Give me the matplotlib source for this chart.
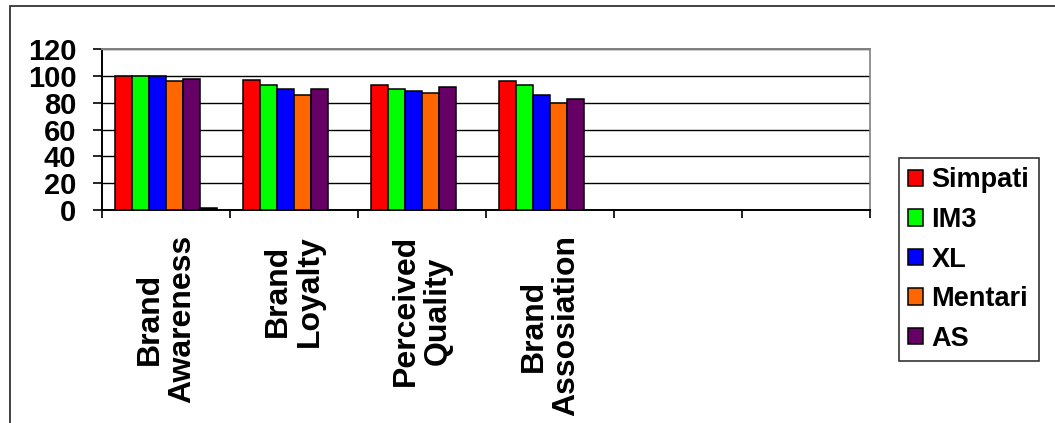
import matplotlib.pyplot as plt
import matplotlib.patches as mpatches
import numpy as np

# brand equity scores per operator
categories = ['Brand\nAwareness', 'Brand\nLoyalty', 'Perceived\nQuality', 'Brand\nAssosiation', '', '']
series = ['Simpati', 'IM3', 'XL', 'Mentari', 'AS']
simpati = [100, 97, 93, 96, np.nan, np.nan]
im3     = [100, 93, 90, 93, np.nan, np.nan]
xl      = [100, 90, 89, 86, np.nan, np.nan]
mentari = [96, 86, 87, 80, np.nan, np.nan]
as_     = [98, 90, 92, 83, np.nan, np.nan]
extra   = [1.3, np.nan, np.nan, np.nan, np.nan, np.nan]   # unnamed 6th series
yticks = [0, 20, 40, 60, 80, 100, 120]

colors = ['#FF0000', '#00FF00', '#0000FF', '#FF6600', '#660066', '#000000']

plt.rcParams['font.family'] = 'Liberation Sans'
plt.rcParams['font.weight'] = 'bold'

fig = plt.figure(figsize=(10.55, 4.23), dpi=100)
ax = fig.add_axes([102/1055, 1-210/423, (870-102)/1055, (210-49)/423])

# outer chart frame (runs off the right and bottom edge)
fig.patches.append(mpatches.Rectangle((10/1055, -0.2), 1.2, 1.2 - 6/423,
                                      transform=fig.transFigure, fill=False,
                                      edgecolor='#222222', linewidth=1.2))

nser = 6
bw = 1/(nser + 1.5)
gap = 0.75*bw
x = np.arange(len(categories))
all_vals = [simpati, im3, xl, mentari, as_, extra]
labels = series + ['_nolegend_']
for j, (vals, c, lab) in enumerate(zip(all_vals, colors, labels)):
    ax.bar(x + gap + j*bw, vals, width=bw, align='edge', color=c,
           edgecolor='black', linewidth=1.1, label=lab, zorder=3)

ax.set_xlim(0, len(categories))
ax.set_ylim(0, 120)
ax.set_yticks(yticks)
ax.set_yticklabels([str(v) for v in yticks], fontsize=21, fontweight='bold')
ax.yaxis.grid(True, color='black', linewidth=1.0, zorder=0)
ax.set_axisbelow(True)

ax.set_xticks(np.arange(len(categories) + 1))
ax.set_xticklabels([])
ax.set_xticks(x + 0.5, minor=True)
ax.set_xticklabels(categories, minor=True, rotation=90, fontsize=23,
                   fontweight='bold', ha='center', va='top', multialignment='center',
                   linespacing=1.1)
ax.tick_params(axis='x', which='minor', length=0, pad=18)
ax.tick_params(axis='x', which='major', direction='out', length=6, width=1.2)
ax.tick_params(axis='y', direction='out', length=6.5, width=1.2, pad=12)

ax.spines['left'].set_linewidth(1.4)
ax.spines['bottom'].set_linewidth(1.4)
ax.spines['top'].set_color('#808080')
ax.spines['top'].set_linewidth(1.4)
ax.spines['right'].set_color('#808080')
ax.spines['right'].set_linewidth(1.2)

leg = ax.legend(loc='upper left', bbox_to_anchor=(899/1055, 1-158/423),
                bbox_transform=fig.transFigure, borderaxespad=0,
                fontsize=19.5, frameon=True, fancybox=False, shadow=False,
                handlelength=0.55, handleheight=0.55, handletextpad=0.3,
                labelspacing=0.5, borderpad=0.35)
leg.get_frame().set_edgecolor('black')
leg.get_frame().set_linewidth(1.2)
for t in leg.get_texts():
    t.set_fontweight('bold')

fig.savefig('out.png', dpi=100)
